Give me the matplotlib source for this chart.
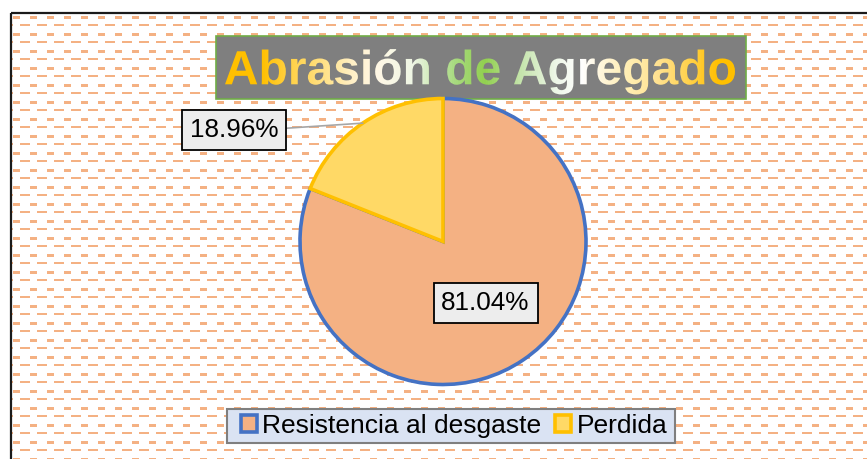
import numpy as np
import matplotlib
matplotlib.use("Agg")
import matplotlib.pyplot as plt
from matplotlib.patches import Rectangle, PathPatch
from matplotlib.textpath import TextPath
from matplotlib.font_manager import FontProperties
from matplotlib.colors import LinearSegmentedColormap
import matplotlib.transforms as mtransforms

plt.rcParams['font.family'] = ['Liberation Sans', 'DejaVu Sans']

# ---------------- data ----------------
title = "Abrasión de Agregado"
categories = ["Resistencia al desgaste", "Perdida"]
values = [81.04, 18.96]

# ---------------- styles ----------------
fill_colors = ["#F4B183", "#FFD966"]
edge_colors = ["#4472C4", "#FFC000"]
pattern_color = "#F4B183"

W, H = 867, 459
fig = plt.figure(figsize=(W / 100, H / 100), dpi=100)
fig.patch.set_facecolor("white")


def px_axes(x0, y0, x1, y1, **kw):
    return fig.add_axes([x0 / W, 1 - y1 / H, (x1 - x0) / W, (y1 - y0) / H], **kw)


# ---------------- background pattern + frame ----------------
bg = fig.add_axes([0, 0, 1, 1])
bg.set_xlim(0, W)
bg.set_ylim(H, 0)
bg.axis("off")
clip = Rectangle((11.5, 13.5), W, H, transform=bg.transData, visible=False)
bg.add_patch(clip)
period = 17.0
for y in np.arange(17.3, H + 5, period):
    xs = [(x, 6.7) for x in np.arange(-3.7, W + 5, period)]
    c = bg.broken_barh(xs, (y - 1.35, 2.7), facecolors=pattern_color, linewidth=0)
    c.set_clip_path(clip)
for y in np.arange(25.0, H + 5, period):
    xs = [(x, 9.5) for x in np.arange(3.0, W + 5, period)]
    c = bg.broken_barh(xs, (y - 1.35, 2.7), facecolors=pattern_color, linewidth=0)
    c.set_clip_path(clip)
bg.plot([10.5, 10.5], [12.5, H + 2], color="#1a1a1a", lw=1.6, solid_capstyle="butt")
bg.plot([10.5, W + 2], [12.5, 12.5], color="#1a1a1a", lw=1.6, solid_capstyle="butt")
# legend frame
bg.add_patch(Rectangle((226.5, 408.5), 448.5, 34.5, facecolor="#DAE3F3",
                       edgecolor="#7F7F7F", lw=1.5, zorder=3))

# ---------------- title with gradient ----------------
tx0, ty0, tx1, ty1 = 216, 35.5, 745.5, 99
tax = px_axes(tx0, ty0, tx1, ty1)
bw, bh = tx1 - tx0, ty1 - ty0
tax.set_xlim(0, bw)
tax.set_ylim(0, bh)
tax.axis("off")
tax.add_patch(Rectangle((0, 0), bw, bh, facecolor="#7F7F7F", edgecolor="#70AD47",
                        lw=1.2, clip_on=False, zorder=0))
fp = FontProperties(family="Liberation Sans", weight="bold")
tp = TextPath((0, 0), title, size=1, prop=fp)
ext = tp.get_extents()
text_left, text_width, baseline = 225 - tx0, 510.0, ty1 - 84.3
s = text_width / ext.width
tr = mtransforms.Affine2D().translate(-ext.x0, 0).scale(s).translate(text_left, baseline)
patch = PathPatch(tr.transform_path(tp), facecolor="none", edgecolor="none")
tax.add_patch(patch)
stops = [(0.0, "#FFC000"), (0.07, "#FFC000"), (0.12, "#FFD040"), (0.17, "#FFDB70"),
         (0.21, "#FFE699"), (0.25, "#FFF0C8"), (0.30, "#FFF8E6"), (0.37, "#EEF6E4"),
         (0.45, "#A8DA80"), (0.51, "#92D050"), (0.58, "#C5E4AC"), (0.65, "#EEF7E8"),
         (0.70, "#FFFFFF"), (0.74, "#FFF6DA"), (0.79, "#FFEEB4"), (0.85, "#FFE291"),
         (0.91, "#FFD24D"), (0.97, "#FFC000"), (1.0, "#FFC000")]
cmap = LinearSegmentedColormap.from_list("tg", stops)
grad = np.linspace(0, 1, 512)[None, :]
im = tax.imshow(grad, cmap=cmap, aspect="auto",
                extent=[text_left, text_left + text_width, 0, bh], zorder=2)
im.set_clip_path(patch)

# ---------------- pie ----------------
cx, cy, r = 443, 241.5, 143
pax = px_axes(cx - r, cy - r, cx + r, cy + r)
wedges, _ = pax.pie(values, startangle=90, counterclock=False, colors=fill_colors,
                    radius=1.0,
                    wedgeprops=dict(linewidth=2.6, joinstyle="miter"))
for w, ec in zip(wedges, edge_colors):
    w.set_edgecolor(ec)
    w.set_clip_on(False)
pax.set_xlim(-1, 1)
pax.set_ylim(-1, 1)
pax.axis("off")

total = sum(values)
cum = 0.0
mids = []
for v in values:
    mids.append(np.deg2rad(90 - (cum + v / 2) / total * 360))
    cum += v

box = dict(boxstyle="square,pad=0.3", facecolor="#EDEDED", edgecolor="black", lw=1.3)
# inside label for Resistencia
m = mids[0]
pax.text(0.53 * np.cos(m), 0.53 * np.sin(m) + 0.01, f"{values[0]:.2f}%", ha="center",
         va="center", fontsize=18.8, color="black", bbox=box)
# outside label for Perdida with leader line
m = mids[1]
pax.annotate(f"{values[1]:.2f}%", xy=(np.cos(m), np.sin(m)), xytext=(-1.46, 0.78),
             ha="center", va="center", fontsize=18.8, color="black", bbox=box,
             arrowprops=dict(arrowstyle="-", color="#A6A6A6", lw=1.2,
                             shrinkA=0, shrinkB=0, relpos=(1.0, 0.55)),
             annotation_clip=False)

# ---------------- legend ----------------
leg = fig.legend(wedges, categories, loc="center",
                 bbox_to_anchor=(454 / W, 1 - 426 / H), ncol=2, fontsize=19,
                 frameon=False, borderpad=0.1, handlelength=0.6, handleheight=0.6,
                 handletextpad=0.2, columnspacing=0.55, borderaxespad=0)
leg.set_zorder(5)

fig.savefig("out.png", dpi=100)
